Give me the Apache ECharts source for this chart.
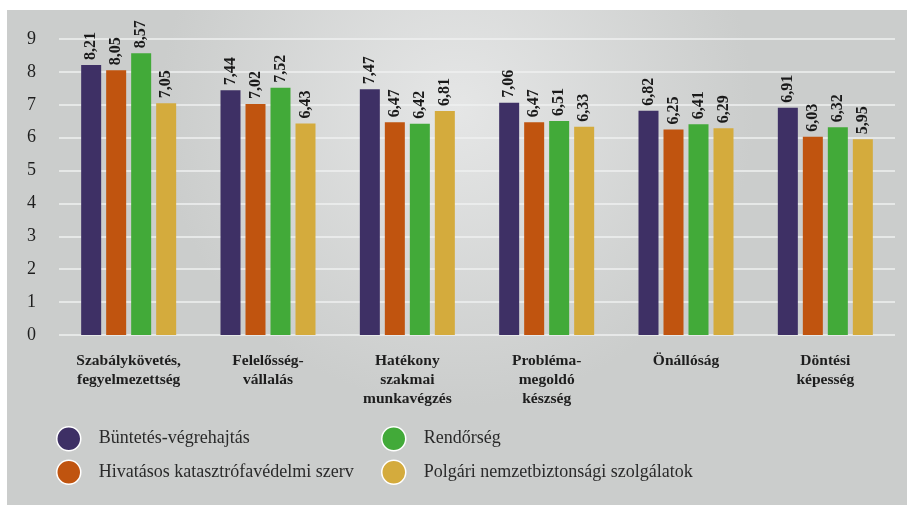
<!DOCTYPE html>
<html>
<head>
<meta charset="utf-8">
<script src="https://cdn.jsdelivr.net/npm/echarts@6/dist/echarts.min.js"></script>
<style>
html,body{margin:0;padding:0;background:#fff;}
#chart{width:907px;height:505px;}
</style>
</head>
<body>
<div id="chart"></div>
<script>
const categories = [
  'Szabálykövetés,\nfegyelmezettség',
  'Felelősség-\nvállalás',
  'Hatékony\nszakmai\nmunkavégzés',
  'Probléma-\nmegoldó\nkészség',
  'Önállóság',
  'Döntési\nképesség'
];
const seriesNames = [
  'Büntetés-végrehajtás',
  'Hivatásos katasztrófavédelmi szerv',
  'Rendőrség',
  'Polgári nemzetbiztonsági szolgálatok'
];
const buntetes = [8.21, 7.44, 7.47, 7.06, 6.82, 6.91];
const katasztrofa = [8.05, 7.02, 6.47, 6.47, 6.25, 6.03];
const rendorseg = [8.57, 7.52, 6.42, 6.51, 6.41, 6.32];
const polgari = [7.05, 6.43, 6.81, 6.33, 6.29, 5.95];
const yTicks = [0, 1, 2, 3, 4, 5, 6, 7, 8, 9];

const colors = ['#3e3065', '#c0540f', '#42aa39', '#d4ab3d'];
const seriesData = [buntetes, katasztrofa, rendorseg, polgari];
const serif = '"Liberation Serif", "DejaVu Serif", serif';

const legendText = {fontFamily: serif, fontSize: 18, color: '#2a2a2a', padding: [0, 0, 0, 13]};

const chart = echarts.init(document.getElementById('chart'), null, {renderer: 'canvas'});
chart.setOption({
  backgroundColor: '#ffffff',
  animation: false,
  graphic: [{
    type: 'rect',
    z: -10,
    silent: true,
    shape: {x: 7, y: 10, width: 900, height: 495},
    style: {
      fill: new echarts.graphic.RadialGradient(0.5, 0.2, 0.6, [
        {offset: 0, color: '#e5e6e6'},
        {offset: 1, color: '#cbcdcc'}
      ])
    }
  }],
  grid: {left: 59, right: 12, top: 39, bottom: 170},
  legend: [{
    data: [seriesNames[0], seriesNames[1]],
    orient: 'vertical',
    left: 51,
    top: 421,
    icon: 'circle',
    itemWidth: 24,
    itemHeight: 24,
    itemGap: 8,
    itemStyle: {borderColor: '#ffffff', borderWidth: 1.5},
    textStyle: legendText
  }, {
    data: [seriesNames[2], seriesNames[3]],
    orient: 'vertical',
    left: 376,
    top: 421,
    icon: 'circle',
    itemWidth: 24,
    itemHeight: 24,
    itemGap: 8,
    itemStyle: {borderColor: '#ffffff', borderWidth: 1.5},
    textStyle: legendText
  }],
  xAxis: {
    type: 'category',
    data: categories,
    axisLine: {show: false},
    axisTick: {show: false},
    axisLabel: {
      interval: 0,
      margin: 16,
      fontFamily: serif,
      fontWeight: 'bold',
      fontSize: 15.5,
      lineHeight: 19,
      color: '#1e1e1e'
    }
  },
  yAxis: {
    type: 'value',
    min: yTicks[0],
    max: yTicks[yTicks.length - 1],
    interval: 1,
    axisLine: {show: false},
    axisTick: {show: false},
    splitLine: {lineStyle: {color: '#eff0f0', width: 1.5}},
    axisLabel: {
      margin: 23,
      fontFamily: serif,
      fontSize: 18,
      color: '#1e1e1e'
    }
  },
  series: seriesNames.map((name, i) => ({
    name: name,
    type: 'bar',
    data: seriesData[i],
    barWidth: 20,
    barGap: '25%',
    itemStyle: {color: colors[i]},
    label: {
      show: true,
      position: 'top',
      rotate: 90,
      align: 'left',
      verticalAlign: 'middle',
      distance: 5,
      fontFamily: serif,
      fontWeight: 'bold',
      fontSize: 16,
      color: '#1a1a1a',
      formatter: p => p.value.toFixed(2).replace('.', ',')
    }
  }))
});
</script>
</body>
</html>
